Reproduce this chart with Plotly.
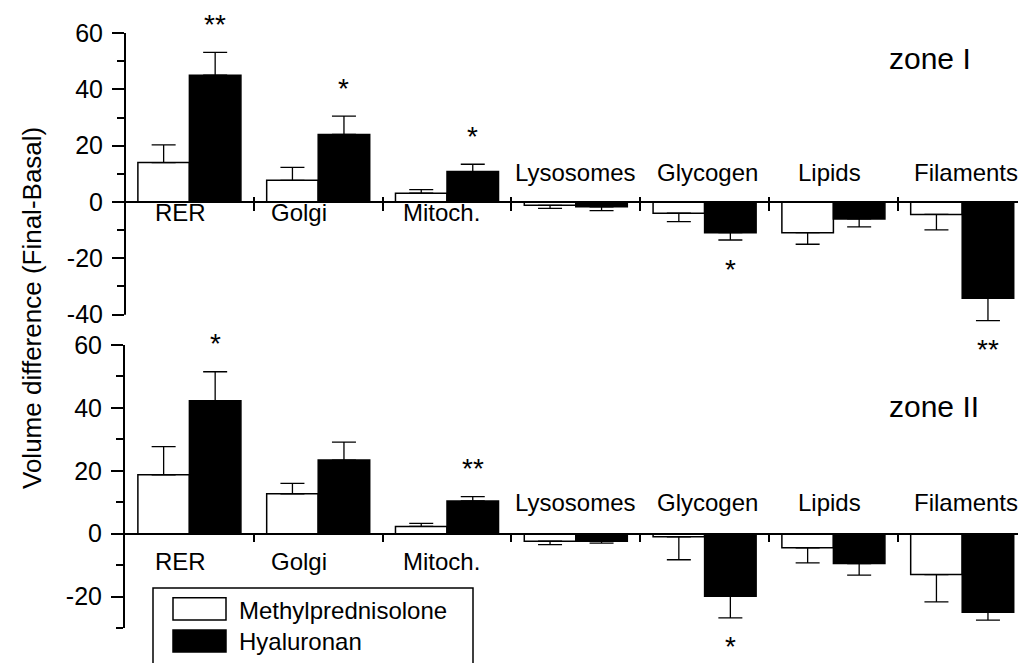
import plotly.graph_objects as go

# ---------------- data ----------------
categories = ["RER", "Golgi", "Mitoch.", "Lysosomes", "Glycogen", "Lipids", "Filaments"]
series_names = ["Methylprednisolone", "Hyaluronan"]

# zone I
meth_z1 = [14.0, 7.7, 3.1, -1.2, -4.0, -10.9, -4.4]
meth_z1_err = [6.3, 4.6, 1.3, 1.1, 3.0, 4.1, 5.5]
hya_z1 = [45.0, 24.0, 10.8, -1.7, -10.9, -6.0, -34.2]
hya_z1_err = [8.1, 6.5, 2.6, 1.4, 2.6, 2.8, 7.9]
sig_z1 = ["**", "*", "*", "", "*", "", "**"]

# zone II
meth_z2 = [18.7, 12.7, 2.3, -2.4, -1.0, -4.5, -13.0]
meth_z2_err = [9.0, 3.3, 1.0, 1.1, 7.3, 4.8, 8.7]
hya_z2 = [42.3, 23.4, 10.4, -2.4, -19.9, -9.5, -25.0]
hya_z2_err = [9.2, 5.7, 1.4, 0.6, 6.9, 3.7, 2.5]
sig_z2 = ["*", "", "**", "", "*", "", ""]

zone_labels = ["zone I", "zone II"]
y_title = "Volume difference (Final-Basal)"
yticks = [-40, -20, 0, 20, 40, 60]
ytick_text = [str(v) for v in yticks]

# ---------------- layout helpers ----------------
FONT = "Liberation Sans, Arial, Helvetica, sans-serif"
W, H = 1018, 663
ML, MR, MT, MB = 125, 0, 33, 35
PW, PH = W - ML - MR, H - MT - MB


def px_x(px):
    return (px - ML) / PW


def px_y(py):
    return (H - MB - py) / PH


ranges = [[-43, 60], [-30, 60]]
domains = [[px_y(323.1), 1.0], [0.0, px_y(345)]]
xrange_ = [-0.5, -0.5 + PW / 128.8]


def zero_pos(i):
    d0, d1 = domains[i]
    r0, r1 = ranges[i]
    return d0 + (0 - r0) / (r1 - r0) * (d1 - d0)


x_idx = list(range(len(categories)))

fig = go.Figure()

zones = [
    (meth_z1, meth_z1_err, hya_z1, hya_z1_err, sig_z1),
    (meth_z2, meth_z2_err, hya_z2, hya_z2_err, sig_z2),
]
fills = ["white", "black"]

for zi, (mv, me, hv, he, sig) in enumerate(zones):
    xa = "x" if zi == 0 else "x2"
    ya = "y" if zi == 0 else "y2"
    for si, (vals, errs) in enumerate([(mv, me), (hv, he)]):
        plus = [e if v > 0 else 0 for v, e in zip(vals, errs)]
        minus = [e if v < 0 else 0 for v, e in zip(vals, errs)]
        fig.add_trace(go.Bar(
            x=x_idx, y=vals, name=series_names[si], showlegend=False,
            xaxis=xa, yaxis=ya,
            marker=dict(color=fills[si], line=dict(color="black", width=1.5)),
            error_y=dict(type="data", symmetric=False, array=plus, arrayminus=minus,
                         color="black", thickness=1.3, width=12),
            offsetgroup=str(si),
        ))
    # significance marks over Hyaluronan bars
    for i, s in enumerate(sig):
        if not s:
            continue
        v = hv[i]
        end = v + he[i] if v > 0 else v - he[i]
        fig.add_annotation(
            x=i + 0.2, y=end, xref=xa, yref=ya, text=s, showarrow=False,
            font=dict(family=FONT, size=28, color="black"),
            yanchor="middle", xanchor="center",
            yshift=28 if v > 0 else -29,
        )
    # category labels
    dxs = [-0.07, -0.15, -0.04, 0.0, 0.02, -0.03, 0.03]
    for i, c in enumerate(categories):
        below = i < 3
        if zi == 0:
            ys = -11 if below else 29
        else:
            ys = -27.5 if below else 31.5
        fig.add_annotation(
            x=i + dxs[i], y=0, xref=xa, yref=ya, text=c, showarrow=False,
            font=dict(family=FONT, size=24, color="black"),
            xanchor="center", yanchor="middle", yshift=ys,
        )
    # zone label
    zy = [51.1, 40.6][zi]
    fig.add_annotation(
        x=px_x(887), y=zy, xref="paper", yref=ya, text=zone_labels[zi],
        showarrow=False, font=dict(family=FONT, size=30, color="black"),
        xanchor="left", yanchor="middle",
    )

yaxis_common = dict(
    tickvals=yticks, ticktext=ytick_text,
    ticks="outside", ticklen=12, tickwidth=2, tickcolor="black",
    minor=dict(dtick=10, ticks="outside", ticklen=7, tickwidth=2, tickcolor="black"),
    showgrid=False, zeroline=False,
    tickfont=dict(family=FONT, size=25, color="black"),
    ticklabelstandoff=4,
)
xaxis_common = dict(
    range=xrange_, showgrid=False, zeroline=False, showticklabels=False,
    tickvals=[i + 0.5 for i in x_idx[:-1]], tickwidth=2, tickcolor="black",
    showline=True, linewidth=2, linecolor="black", anchor="free",
)

fig.update_layout(
    width=W, height=H,
    margin=dict(l=ML, r=MR, t=MT, b=MB, pad=0),
    paper_bgcolor="white", plot_bgcolor="white",
    barmode="group", bargap=0.2, bargroupgap=0,
    font=dict(family=FONT, color="black"),
    xaxis=dict(**xaxis_common, domain=[0, 1], position=zero_pos(0),
               ticks="outside", ticklen=8),
    xaxis3=dict(range=xrange_, showgrid=False, zeroline=False, showticklabels=False,
                tickvals=[i + 0.5 for i in x_idx[:-1]], tickwidth=2, tickcolor="black",
                showline=False, anchor="free", position=zero_pos(0),
                overlaying="x", ticks="inside", ticklen=5, matches="x"),
    xaxis2=dict(**xaxis_common, domain=[0, 1], position=zero_pos(1),
                ticks="outside", ticklen=7),
    yaxis=dict(**yaxis_common, domain=domains[0], range=ranges[0], anchor="x",
               showline=False),
    yaxis2=dict(**yaxis_common, domain=domains[1], range=ranges[1], anchor="x2",
                showline=True, linewidth=2, linecolor="black"),
)

# invisible trace to activate xaxis3 (crossing tick marks on zone I)
fig.add_trace(go.Scatter(x=[None], y=[None], xaxis="x3", yaxis="y",
                         showlegend=False, hoverinfo="skip"))

# zone I y axis line from -40 to 60
fig.add_shape(type="line", xref="x domain", yref="y", x0=0, x1=0,
              y0=yticks[0], y1=yticks[-1], line=dict(color="black", width=2))

# y title
fig.add_annotation(
    x=px_x(32), y=px_y(308), xref="paper", yref="paper", text=y_title,
    textangle=-90, showarrow=False, font=dict(family=FONT, size=26, color="black"),
    xanchor="center", yanchor="middle",
)

# legend box drawn manually
fig.add_shape(type="rect", xref="paper", yref="paper",
              x0=px_x(153), x1=px_x(473), y0=px_y(588), y1=px_y(690),
              line=dict(color="black", width=1.5), fillcolor="white", layer="above")
sw_y = [(597.7, 620), (630, 652)]
txt_y = [610, 641.5]
for si, name in enumerate(series_names):
    fig.add_shape(type="rect", xref="paper", yref="paper",
                  x0=px_x(173), x1=px_x(226), y0=px_y(sw_y[si][1]), y1=px_y(sw_y[si][0]),
                  line=dict(color="black", width=1.5), fillcolor=fills[si], layer="above")
    fig.add_annotation(
        x=px_x(237), y=px_y(txt_y[si]), xref="paper", yref="paper", text=name,
        showarrow=False, font=dict(family=FONT, size=24, color="black"),
        xanchor="left", yanchor="middle",
    )

fig.write_html(
    "out.html",
    config={"displayModeBar": False},
    post_script="document.body.style.margin='0px';document.body.style.overflow='hidden';",
)
